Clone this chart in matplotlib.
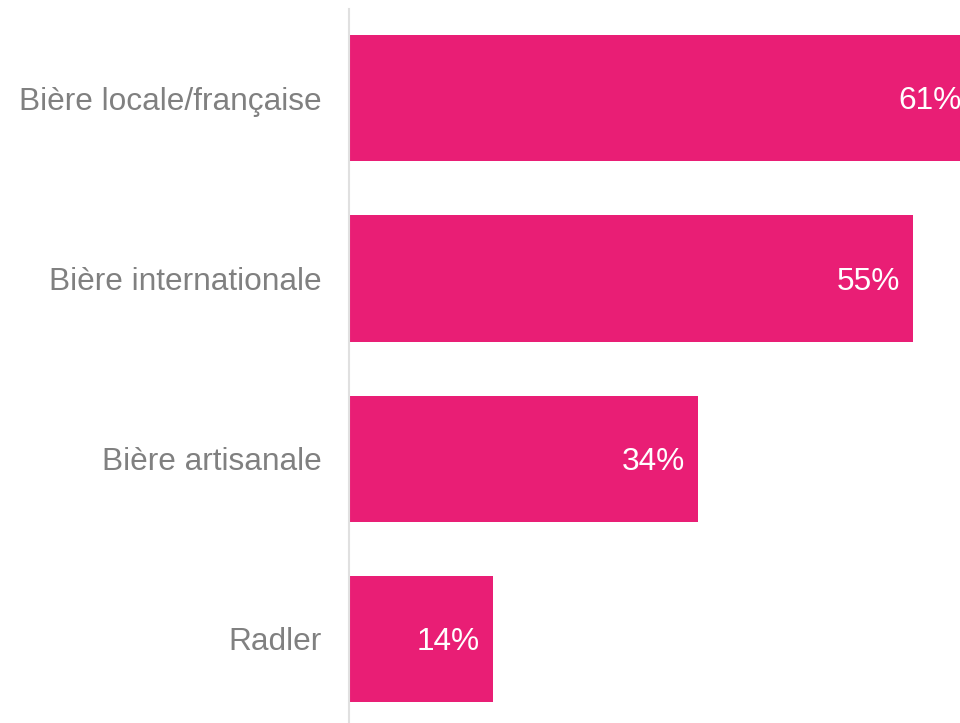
import matplotlib
matplotlib.use("Agg")
import matplotlib.pyplot as plt

categories = ["Bière locale/française", "Bière internationale", "Bière artisanale", "Radler"]
values = [61, 55, 34, 14]
value_labels = ["61%", "55%", "34%", "14%"]

BAR_COLOR = "#E91E75"
TEXT_GRAY = "#808080"

plt.rcParams["font.family"] = ["Liberation Sans", "DejaVu Sans"]

fig = plt.figure(figsize=(9.6, 7.23), dpi=100)
ax = fig.add_axes([349 / 960, 0, 1 - 349 / 960, 1])

pos = list(range(len(categories)))
ax.barh(pos, values, height=0.7, color=BAR_COLOR, zorder=2)

# value labels sit inside the bar, right-aligned near its end
for p, v, lab in zip(pos, values, value_labels):
    ax.annotate(lab, xy=(v, p), xytext=(-13, -3), textcoords="offset pixels",
                ha="right", va="center", color="white", fontsize=22.8,
                annotation_clip=False)

ax.set_xlim(0, 59.6)
ax.set_ylim(3.469, -0.547)
ax.set_yticks(pos)
ax.set_yticklabels(categories)
ax.tick_params(axis="y", length=0, pad=19.4, labelsize=22.8, labelcolor=TEXT_GRAY)
ax.set_xticks([])

for side in ["top", "right", "bottom"]:
    ax.spines[side].set_visible(False)
ax.spines["left"].set_color("#E0E0E0")
ax.spines["left"].set_linewidth(1.5)
ax.spines["left"].set_bounds(-0.497, 3.469)

fig.savefig("out.png", dpi=100)
plt.close(fig)
